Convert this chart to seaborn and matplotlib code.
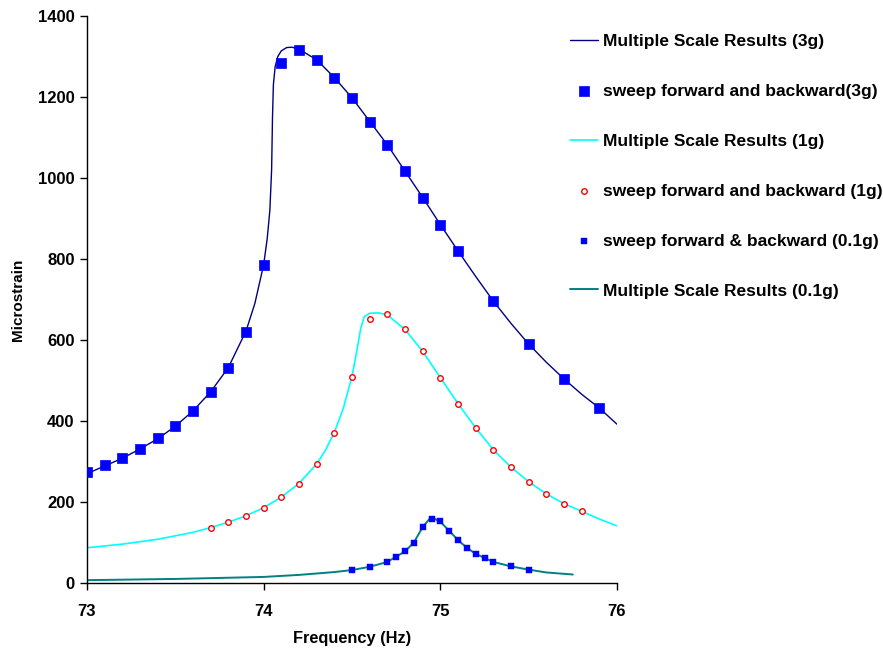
import matplotlib
matplotlib.use("Agg")
import matplotlib.pyplot as plt
import seaborn as sns
import pandas as pd

# ---- data ----
# 3g: multiple scale results (line)
x3_line = [73.0, 73.1, 73.2, 73.3, 73.4, 73.5, 73.6, 73.7, 73.8, 73.9, 73.95, 74.0,
           74.02, 74.035, 74.045, 74.05, 74.055, 74.065, 74.08, 74.1, 74.13, 74.16,
           74.2, 74.3, 74.4, 74.5, 74.6, 74.7, 74.8, 74.9, 75.0, 75.1, 75.2, 75.3,
           75.4, 75.5, 75.6, 75.7, 75.8, 75.9, 76.0]
y3_line = [270, 289, 308, 331, 356, 387, 425, 472, 532, 622, 690, 786,
           850, 920, 1020, 1150, 1230, 1275, 1300, 1314, 1322, 1323,
           1318, 1292, 1248, 1198, 1140, 1082, 1017, 952, 885, 820, 757, 696,
           641, 590, 545, 504, 466, 432, 392]
# 3g: sweep forward and backward (squares)
x3_pts = [73.0, 73.1, 73.2, 73.3, 73.4, 73.5, 73.6, 73.7, 73.8, 73.9, 74.0, 74.1,
          74.2, 74.3, 74.4, 74.5, 74.6, 74.7, 74.8, 74.9, 75.0, 75.1, 75.3, 75.5,
          75.7, 75.9]
y3_pts = [275, 291, 309, 332, 357, 388, 425, 471, 530, 620, 786, 1285,
          1316, 1291, 1246, 1198, 1139, 1081, 1017, 951, 884, 820, 696, 590,
          504, 432]

# 1g: multiple scale results (line)
x1_line = [73.0, 73.2, 73.4, 73.6, 73.7, 73.8, 73.9, 74.0, 74.1, 74.2, 74.3, 74.35,
           74.4, 74.45, 74.5, 74.53, 74.55, 74.57, 74.6, 74.65, 74.7, 74.8, 74.9,
           75.0, 75.1, 75.2, 75.3, 75.4, 75.5, 75.6, 75.7, 75.8, 75.9, 76.0]
y1_line = [87, 96, 108, 125, 137, 150, 166, 186, 212, 246, 294, 328,
           372, 430, 510, 580, 630, 658, 666, 667, 662, 626, 572,
           507, 443, 383, 329, 286, 250, 220, 196, 177, 158, 141]
# 1g: sweep forward and backward (open circles)
x1_pts = [73.7, 73.8, 73.9, 74.0, 74.1, 74.2, 74.3, 74.4, 74.5, 74.6, 74.7, 74.8,
          74.9, 75.0, 75.1, 75.2, 75.3, 75.4, 75.5, 75.6, 75.7, 75.8]
y1_pts = [137, 151, 166, 186, 212, 245, 293, 371, 509, 651, 663, 626,
          572, 507, 443, 383, 329, 286, 250, 220, 196, 177]

# 0.1g: sweep forward & backward (small squares)
x01_pts = [74.5, 74.6, 74.7, 74.75, 74.8, 74.85, 74.9, 74.95, 75.0, 75.05, 75.1,
           75.15, 75.2, 75.25, 75.3, 75.4, 75.5]
y01_pts = [32, 40, 52, 63, 78, 100, 138, 157, 152, 129, 106, 87, 72, 61, 52, 41, 33]
# 0.1g: multiple scale results (line)
x01_line = [73.0, 73.5, 74.0, 74.2, 74.4, 74.5, 74.6, 74.7, 74.8, 74.85, 74.9, 74.94,
            74.97, 75.0, 75.05, 75.1, 75.15, 75.2, 75.3, 75.4, 75.5, 75.6, 75.75]
y01_line = [7, 10, 15, 20, 27, 32, 40, 52, 78, 100, 138, 159,
            158, 151, 129, 106, 87, 72, 52, 41, 33, 26, 21]

labels = ["Multiple Scale Results (3g)",
          "sweep forward and backward(3g)",
          "Multiple Scale Results (1g)",
          "sweep forward and backward (1g)",
          "sweep forward & backward (0.1g)",
          "Multiple Scale Results (0.1g)"]
x_ticks = [73, 74, 75, 76]
y_ticks = [0, 200, 400, 600, 800, 1000, 1200, 1400]

# ---- plotting ----
sns.set_style("ticks")
plt.rcParams['font.family'] = ['Liberation Sans', 'DejaVu Sans']
plt.rcParams['font.weight'] = 'bold'
plt.rcParams['text.color'] = 'black'
plt.rcParams['axes.labelcolor'] = 'black'
plt.rcParams['xtick.color'] = 'black'
plt.rcParams['ytick.color'] = 'black'

fig = plt.figure(figsize=(8.83, 6.48), dpi=100)
ax = fig.add_axes([87/883, 1-583/648, (617-87)/883, (583-16)/648])

d3l = pd.DataFrame({"x": x3_line, "y": y3_line})
d3p = pd.DataFrame({"x": x3_pts, "y": y3_pts})
d1l = pd.DataFrame({"x": x1_line, "y": y1_line})
d1p = pd.DataFrame({"x": x1_pts, "y": y1_pts})
d01p = pd.DataFrame({"x": x01_pts, "y": y01_pts})
d01l = pd.DataFrame({"x": x01_line, "y": y01_line})

sns.lineplot(data=d3l, x="x", y="y", ax=ax, color="#000080", linewidth=1.0,
             sort=False, estimator=None, label=labels[0])
sns.scatterplot(data=d3p, x="x", y="y", ax=ax, color="#0000FF", marker="s",
                s=55, edgecolor="#0000FF", linewidth=0.5, zorder=3, label=labels[1])
sns.lineplot(data=d1l, x="x", y="y", ax=ax, color="#00FFFF", linewidth=1.2,
             sort=False, estimator=None, label=labels[2])
sns.scatterplot(data=d1p, x="x", y="y", ax=ax, marker="o", s=16,
                facecolor="white", edgecolor="#FF0000", linewidth=1.0, zorder=3,
                label=labels[3])
sns.scatterplot(data=d01p, x="x", y="y", ax=ax, color="#0000FF", marker="s",
                s=20, edgecolor="#0000FF", linewidth=0.3, zorder=3, label=labels[4])
sns.lineplot(data=d01l, x="x", y="y", ax=ax, color="#008080", linewidth=1.4,
             sort=False, estimator=None, label=labels[5])

ax.set_xlim(73, 76)
ax.set_ylim(0, 1400)
ax.set_xticks(x_ticks)
ax.set_yticks(y_ticks)
ax.set_xticklabels([str(t) for t in x_ticks], fontsize=12, fontweight='bold', color='black')
ax.set_yticklabels([str(t) for t in y_ticks], fontsize=12, fontweight='bold', color='black')
ax.tick_params(axis='both', direction='out', length=5, width=1, color='black', pad=4)
ax.tick_params(axis='x', pad=10)
ax.set_xlabel("Frequency (Hz)", fontsize=11.8, fontweight='bold', labelpad=9, color='black')
ax.set_ylabel("Microstrain", fontsize=11, fontweight='bold', labelpad=9, color='black')
sns.despine(ax=ax)
for sp in ['left', 'bottom']:
    ax.spines[sp].set_linewidth(1.0)
    ax.spines[sp].set_color('black')

handles, labs = ax.get_legend_handles_labels()
order = [labs.index(l) for l in labels]
leg = ax.legend([handles[i] for i in order], [labs[i] for i in order],
                loc='upper left', bbox_to_anchor=(570/883, 1-34/648),
                bbox_transform=fig.transFigure, frameon=False, borderaxespad=0,
                borderpad=0, labelspacing=2.0, handlelength=1.6, handletextpad=0.3,
                prop={'size': 12.5, 'weight': 'bold'})
for t in leg.get_texts():
    t.set_color('black')

fig.savefig("out.png", dpi=100)
